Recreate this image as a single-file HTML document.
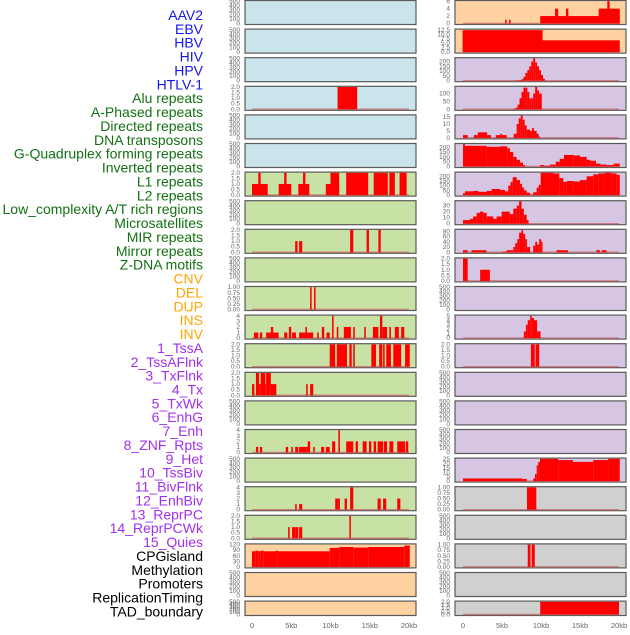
<!DOCTYPE html>
<html><head><meta charset="utf-8"><style>
html,body{margin:0;padding:0;background:#fff;}
svg text{font-family:"Liberation Sans",sans-serif;}
</style></head><body>
<svg id="chart" width="630" height="630" xmlns="http://www.w3.org/2000/svg">
<g id="labels"></g>
<g id="panels"></g>
</svg>
<script>
const trackLabels = ["AAV2","EBV","HBV","HIV","HPV","HTLV-1","Alu repeats","A-Phased repeats","Directed repeats","DNA transposons","G-Quadruplex forming repeats","Inverted repeats","L1 repeats","L2 repeats","Low_complexity A/T rich regions","Microsatellites","MIR repeats","Mirror repeats","Z-DNA motifs","CNV","DEL","DUP","INS","INV","1_TssA","2_TssAFlnk","3_TxFlnk","4_Tx","5_TxWk","6_EnhG","7_Enh","8_ZNF_Rpts","9_Het","10_TssBiv","11_BivFlnk","12_EnhBiv","13_ReprPC","14_ReprPCWk","15_Quies","CPGisland","Methylation","Promoters","ReplicationTiming","TAD_boundary"];
const labelGroups = [0,0,0,0,0,0,1,1,1,1,1,1,1,1,1,1,1,1,1,2,2,2,2,2,3,3,3,3,3,3,3,3,3,3,3,3,3,3,3,4,4,4,4,4];
const groupColors = ["#1515ee","#137013","#ffa500","#a030ee","#000000"];

const xTickValues = [0,5,10,15,20];
const xTickLabels = ["0","5kb","10kb","15kb","20kb"];

const T_E = ["0","100","200","300","400","500"];
const T_2 = ["0.0","0.5","1.0","1.5","2.0"];
const T_1 = ["0.00","0.25","0.50","0.75","1.00"];
const T_4 = ["0","1","2","3","4"];

const leftBg = [0,0,0,0,0,0,1,1,1,1,1,1,1,1,1,1,1,1,1,2,2,2];
const rightBg = [2,2,3,3,3,3,3,3,3,3,3,3,3,3,3,3,3,4,4,4,4,4];

const leftTicks = [T_E,T_E,T_E,T_2,T_E,T_E,T_2,T_E,T_2,T_E,T_1,T_4,T_2,T_2,T_E,T_4,T_E,T_4,T_2,["0","30","60","90","120"],T_E,T_E];
const leftMax = [500,500,500,2,500,500,2,500,2,500,1,4,2,2,500,4,500,4,2,120,500,500];
const rightTicks = [["0","2","4","6"],["0.0","2.5","5.0","7.5","10.0","12.5"],["0","50","100","150","200"],["0","50","100"],["0","5","10","15"],["0","50","100","150","200"],["0","50","100","150","200"],["0","10","20","30"],["0","20","40","60","80"],T_2,T_E,["0","1","2","3","4","5"],T_2,T_E,T_E,T_E,["0","5","10","15","20","25"],T_1,T_E,T_1,T_E,T_2];
const rightMax = [6,12.5,232,142,16,232,237,37,85,2,500,5,2,500,500,500,25.5,1,500,1,500,2];

const leftBars = [
 [],[],[],
 [[10.9,13.4,2]],
 [],[],
 [[0,2,1],[0.8,1.1,2],[3.4,5,1],[4.1,4.4,2],[5.9,7.3,1],[6.5,6.8,2],[9.4,11.1,1],[10,11.1,2],[12,14.8,2],[15.5,17.3,2],[17.5,18.2,2],[18.8,19.7,2]],
 [],
 [[5.5,5.8,1],[6,6.4,1],[12.5,12.9,2],[14.6,14.9,2],[16.1,16.4,2]],
 [],
 [[7.4,7.6,1],[7.9,8.1,1]],
 [[0.25,0.8,1],[1,1.3,1],[1.8,3.4,1],[2.4,2.7,2],[4.1,4.5,1],[4.7,5,2],[5.1,5.6,1],[6,7.8,1],[6.8,7,2],[8.3,8.5,1],[8.9,9.2,2],[9.5,9.9,1],[10.2,10.4,4],[10.8,11,2],[11.7,12.6,2],[12.9,13.1,2],[14.3,14.5,2],[15.4,16.1,2],[16.3,16.6,4],[16.6,17.2,2],[17.5,17.7,2],[18.2,18.7,2],[19,19.4,2]],
 [[9.9,10.6,2],[10.8,12.1,2],[12.4,12.7,2],[12.9,13.1,2],[15.2,15.8,2],[16.2,16.6,2],[16.7,16.9,2],[17.1,17.7,2],[18,19,2],[19.5,20.1,2]],
 [[0,0.3,1],[0.5,0.9,2],[0.9,1.1,1],[1.1,1.7,2],[1.7,1.8,1],[1.8,2.4,2],[2.4,3.1,1],[6.9,7.1,1],[7.4,7.8,1]],
 [],
 [[0.5,0.8,1],[1,1.3,1],[4.3,4.6,1],[5,5.2,1],[5.5,5.9,1],[6,6.9,1],[6.9,7.4,1],[7.1,7.4,2],[7.8,8,1],[8.8,9.2,1],[9.4,9.9,1],[10.2,10.6,2],[11,11.2,4],[12,12.9,2],[13.2,13.5,2],[14.1,14.6,2],[14.9,15.2,2],[15.5,15.8,2],[16,16.7,2],[16.8,17.2,2],[17.5,18,2],[18.5,19.5,2],[19.6,19.9,2]],
 [],
 [[5.5,5.7,1],[6,6.4,1],[10.6,11,2],[11,11.2,2],[11.8,12.1,2],[12.5,12.9,4],[16,16.4,2],[16.7,17.1,2],[18.5,18.9,2]],
 [[4.6,4.8,1],[5.1,5.5,1],[5.5,5.9,1],[6,6.4,1],[12.4,12.6,2]],
 [[0,0.4,84],[0.4,0.8,87],[0.8,1.1,84],[1.1,1.5,87],[1.5,3,84],[3,3.3,87],[3.3,9.9,84],[9.9,11.1,102],[11.1,12.9,107],[12.9,14.8,104],[14.8,19.4,107],[19.4,20.1,115]],
 [],[]
];

const rightBars = [
 [[5.4,5.6,1],[5.9,6.1,1],[9.9,20.1,2],[11.8,12.2,4],[13.2,13.5,4],[17.4,20.1,4],[18.5,18.8,6]],
 [[-0.05,10.2,12.3],[10.2,20.1,6.6]],
 [[6.5,6.75,3],[6.75,7,3],[7,7.25,3],[7.25,7.5,8],[7.5,7.75,15],[7.75,8,40],[8,8.25,80],[8.25,8.5,110],[8.5,8.75,150],[8.75,9,200],[9,9.25,232],[9.25,9.5,190],[9.5,9.75,150],[9.75,10,110],[10,10.25,60],[10.25,10.5,20]],
 [[6.5,6.75,5],[6.75,7,10],[7,7.25,30],[7.25,7.5,70],[7.5,7.75,110],[7.75,8,138],[8,8.25,138],[8.25,8.5,110],[8.5,8.75,70],[8.75,9,70],[9,9.25,100],[9.25,9.5,142],[9.5,9.75,120],[9.75,10.1,100]],
 [[0,0.6,2],[1.4,1.9,2],[1.9,3.1,4],[3.1,3.6,2],[4.2,4.8,2],[4.8,5,3],[5,5.6,2],[6.5,6.88,3],[6.88,7.14,10],[7.14,7.4,14],[7.4,7.65,16],[7.65,7.9,13],[7.9,8.16,9],[8.16,8.6,6],[8.6,8.85,5],[8.85,9.1,7],[9.1,9.44,5],[9.44,9.7,3],[9.7,9.87,1]],
 [[0,0.26,232],[0.26,3.03,215],[3.03,4.74,205],[4.74,5.68,210],[5.68,6.03,190],[6.03,6.45,150],[6.45,6.88,100],[6.88,7.3,70],[7.3,7.7,40],[7.7,7.95,15],[9.87,10.4,15],[10.4,11.15,8],[11.15,11.9,20],[11.9,12.4,50],[12.4,12.95,80],[12.95,14.2,120],[14.2,15,115],[15,15.85,100],[15.85,16.3,70],[16.3,17.05,60],[17.05,17.6,30],[17.6,18.4,20],[18.4,19.3,15],[19.3,20.1,30]],
 [[0,0.26,20],[0.26,1.33,40],[1.33,1.97,45],[1.97,3.03,35],[3.03,3.68,45],[3.68,4.74,65],[4.74,5.38,55],[5.38,5.8,40],[5.8,6.1,100],[6.1,6.37,140],[6.37,6.88,190],[6.88,7.3,160],[7.3,7.56,120],[7.56,7.82,80],[7.82,8.16,50],[8.16,8.6,25],[8.6,9,5],[9,9.44,30],[9.44,9.7,80],[9.7,9.96,110],[9.96,11.6,237],[11.6,12.35,230],[12.35,12.86,180],[12.86,13.3,140],[13.3,14.15,150],[14.15,15,145],[15,15.85,160],[15.85,16.7,200],[16.7,17.35,220],[17.35,18.2,230],[18.2,19.05,237],[19.05,19.7,230],[19.7,20.1,215]],
 [[0,0.3,6],[0.3,0.9,6],[0.9,1.3,8],[1.3,1.75,12],[1.75,2.18,18],[2.18,2.6,20],[2.6,3.04,18],[3.04,3.9,12],[3.9,4.3,8],[4.3,4.96,12],[4.96,6,20],[6,6.45,16],[6.45,6.9,25],[6.9,7.2,30],[7.2,7.5,37],[7.5,7.8,25],[7.8,8.16,15],[8.16,8.4,6]],
 [[0,0.6,8],[1.1,3,8],[5.1,5.6,3],[5.6,6.45,8],[6.45,6.7,20],[6.7,6.96,35],[6.96,7.2,50],[7.2,7.5,75],[7.5,7.7,85],[7.7,7.97,70],[7.97,8.2,50],[8.2,8.6,20],[9,9.27,25],[9.27,9.5,40],[9.5,9.77,30],[9.77,10.03,50],[10.03,10.2,40],[12,13.45,8],[17.1,17.55,8],[17.8,18.4,8]],
 [[0,0.6,2],[2.2,3.45,1]],
 [],
 [[7.8,8.06,1.5],[8.06,8.3,3],[8.3,8.6,4],[8.6,8.8,5],[8.8,9.1,4.5],[9.1,9.5,4],[9.5,9.94,1.5]],
 [[8.7,9.2,2],[9.3,9.77,2]],
 [],[],[],
 [[0,7.6,3],[7.6,8.16,2.5],[9,9.23,3],[9.23,9.45,8],[9.45,9.65,18],[9.65,9.87,22],[9.87,12.2,25.5],[12.2,14.1,24],[14.1,16.7,22],[16.7,18.6,24],[18.6,20.1,25.5]],
 [[8.2,9.4,1]],
 [],
 [[8.3,8.65,1],[8.8,9.2,1]],
 [],
 [[9.9,20,2]]
];

const NS = "http://www.w3.org/2000/svg";
const bgColors = ["#c9e4eb","#c8e1a4","#fdd1a0","#d6c6e3","#d0d0d0"];
function mk(tag, attrs, parent){ const e=document.createElementNS(NS,tag); for(const k in attrs) e.setAttribute(k,attrs[k]); parent.appendChild(e); return e; }

const labelsG = document.getElementById('labels');
trackLabels.forEach((t,i)=>{
  const el = mk('text',{x:203,y:15+i*13.87+5,'text-anchor':'end','font-size':'14',fill:groupColors[labelGroups[i]]},labelsG);
  
  
  el.textContent = t;
});

const panelsG = document.getElementById('panels');
const cols = [
 {x0:245,x1:416,zx:252,sc:7.85,tickX:240,bg:leftBg,ticks:leftTicks,max:leftMax,bars:leftBars,name:'left'},
 {x0:455,x1:626,zx:463,sc:7.8,tickX:450,bg:rightBg,ticks:rightTicks,max:rightMax,bars:rightBars,name:'right'}
];
cols.forEach(c=>{
  const xs = kb => c.zx + kb*c.sc;
  for(let r=0;r<22;r++){
    const top = r*28.6, bot = r===21 ? 616 : top+25;
    const g = mk('g',{},panelsG);
    
    
    const rect = mk('rect',{x:c.x0,y:top+0.5,width:c.x1-c.x0,height:bot-top-1,fill:bgColors[c.bg[r]],stroke:'#5a5a5a','stroke-width':1.2},g);
    
    
    const y0 = bot-1.5, y1 = top+1.2;
    const ys = v => y0 - v/c.max[r]*(y0-y1);
    const bars = c.bars[r];
    if(bars.length){
      const bl = mk('line',{x1:xs(0),x2:xs(20),y1:y0,y2:y0,stroke:'#c06060','stroke-width':1.5,'stroke-opacity':0.7},g);
      
      
    }
    bars.forEach(b=>{
      const yy = Math.max(ys(b[2]), top+1);
      const br = mk('rect',{x:xs(b[0]),y:yy,width:Math.max(xs(b[1])-xs(b[0]),0.8),height:y0-yy,fill:'#ff0000'},g);
      
      
    });
    const tl = c.ticks[r];
    tl.forEach(t=>{
      const v = parseFloat(t);
      const tt = mk('text',{x:c.tickX,y:ys(v)+2,'text-anchor':'end','font-size':'6.5',fill:'#666'},g);
      
      
      tt.textContent = t;
    });
  }
  xTickValues.forEach((v,i)=>{
    const xt = mk('text',{x:xs(v),y:628,'text-anchor':'middle','font-size':'7.5',fill:'#666'},panelsG);
    
    
    xt.textContent = xTickLabels[i];
  });
});
</script>
</body></html>
